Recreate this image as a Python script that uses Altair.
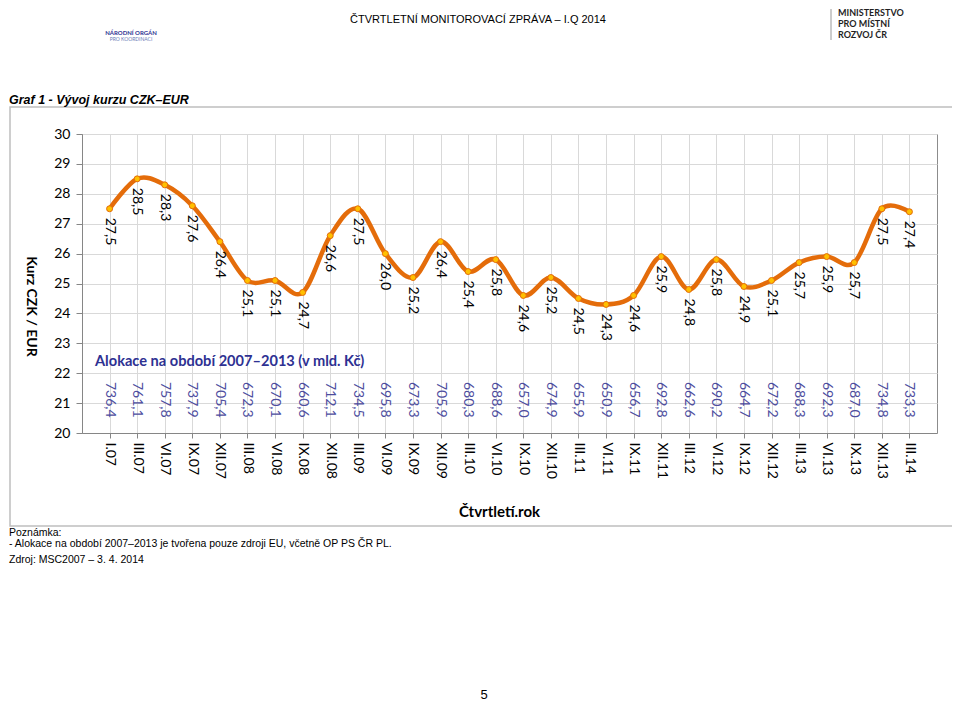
import altair as alt
import pandas as pd

quarters = ["I.07", "III.07", "VI.07", "IX.07", "XII.07", "III.08", "VI.08", "IX.08",
            "XII.08", "III.09", "VI.09", "IX.09", "XII.09", "III.10", "VI.10", "IX.10",
            "XII.10", "III.11", "VI.11", "IX.11", "XII.11", "III.12", "VI.12", "IX.12",
            "XII.12", "III.13", "VI.13", "IX.13", "XII.13", "III.14"]
rate = [27.5, 28.5, 28.3, 27.6, 26.4, 25.1, 25.1, 24.7, 26.6, 27.5, 26.0, 25.2, 26.4, 25.4,
        25.8, 24.6, 25.2, 24.5, 24.3, 24.6, 25.9, 24.8, 25.8, 24.9, 25.1, 25.7, 25.9, 25.7,
        27.5, 27.4]
alloc = [736.4, 761.1, 757.8, 737.9, 705.4, 672.3, 670.1, 660.6, 712.1, 734.5, 695.8, 673.3,
         705.9, 680.3, 688.6, 657.0, 674.9, 655.9, 650.9, 656.7, 692.8, 662.6, 690.2, 664.7,
         672.2, 688.3, 692.3, 687.0, 734.8, 733.3]
y_ticks = list(range(20, 31))

df = pd.DataFrame({"q": quarters, "rate": rate, "alloc": alloc})
df["rate_lbl"] = [f"{v:.1f}".replace(".", ",") for v in rate]
df["alloc_lbl"] = [f"{v:.1f}".replace(".", ",") for v in alloc]

FONT = "Lato"
NARROW = "Liberation Sans Narrow, Arial Narrow, Liberation Sans"

x = alt.X("q:N", sort=quarters,
          scale=alt.Scale(type="point", padding=1),
          axis=alt.Axis(title="Čtvrtletí.rok", labelAngle=90, labelAlign="left",
                        labelBaseline="middle", labelPadding=4, tickSize=5,
                        labelFontSize=14, labelColor="#000000",
                        titleX=417, titleY=78, titleAlign="center", titleBaseline="middle",
                        titleFontSize=15, titleFontWeight="bold", titleColor="#000000",
                        grid=True))
y = alt.Y("rate:Q", scale=alt.Scale(domain=[20, 30], nice=False, zero=False),
          axis=alt.Axis(values=y_ticks, title="Kurz CZK / EUR", titleAngle=90,
                        titleX=-52, titleY=172, titleAlign="center", titleBaseline="middle",
                        titleFontSize=14, titleFontWeight="bold", titleColor="#000000",
                        labelFontSize=14, labelColor="#000000", tickSize=6, labelPadding=6,
                        grid=True))

base = alt.Chart(df)
one = pd.DataFrame({"k": [0]})
deco = alt.Chart(one)

frame = deco.mark_rect(fillOpacity=0, stroke="#BFBFBF", strokeWidth=1.5).encode(
    x=alt.value(-72), x2=alt.value(875), y=alt.value(-27), y2=alt.value(392))

line = base.mark_line(interpolate="cardinal", color="#E46C0A", strokeWidth=4.5).encode(x=x, y=y)
pts = base.mark_circle(size=36, fill="#FFC000", stroke="#E46C0A", strokeWidth=1,
                       opacity=1).encode(x=x, y=y)
rate_txt = base.mark_text(angle=90, align="left", baseline="middle", dx=9, font=FONT,
                          fontSize=14, color="#000000").encode(x=x, y=y, text="rate_lbl:N")
alloc_txt = base.mark_text(angle=90, align="left", baseline="middle", font=FONT,
                           fontSize=14, color="#4D4D9E").encode(
    x=x, y=alt.value(248), text="alloc_lbl:N")

alloc_head = deco.mark_text(text="Alokace na období 2007–2013 (v mld. Kč)", align="left",
                            baseline="middle", font=FONT, fontSize=14.6, fontWeight="bold",
                            color="#2E3192").encode(x=alt.value(13), y=alt.value(228))

header = deco.mark_text(text="ČTVRTLETNÍ MONITOROVACÍ ZPRÁVA – I.Q 2014", align="center",
                        baseline="middle", font=NARROW, fontSize=11,
                        color="#000000").encode(x=alt.value(396), y=alt.value(-114))
no1 = deco.mark_text(text="NÁRODNÍ ORGÁN", align="center", baseline="middle", font=FONT,
                     fontSize=6, fontWeight="bold", color="#2E3192").encode(
    x=alt.value(49), y=alt.value(-101))
no2 = deco.mark_text(text="PRO KOORDINACI", align="center", baseline="middle", font=FONT,
                     fontSize=5, color="#6D7DB8").encode(x=alt.value(49), y=alt.value(-95))
mmr1 = deco.mark_text(text="MINISTERSTVO", align="left", baseline="middle", font=FONT,
                      fontSize=9, fontWeight="bold", color="#1F1F1F").encode(
    x=alt.value(756), y=alt.value(-121))
mmr2 = deco.mark_text(text="PRO MÍSTNÍ", align="left", baseline="middle", font=FONT,
                      fontSize=9, fontWeight="bold", color="#1F1F1F").encode(
    x=alt.value(756), y=alt.value(-110))
mmr3 = deco.mark_text(text="ROZVOJ ČR", align="left", baseline="middle", font=FONT,
                      fontSize=9, fontWeight="bold", color="#1F1F1F").encode(
    x=alt.value(756), y=alt.value(-99))
sep = deco.mark_rule(color="#9A9A9A", strokeWidth=1).encode(
    x=alt.value(749), y=alt.value(-125), y2=alt.value(-94))
title = deco.mark_text(text="Graf 1 - Vývoj kurzu CZK–EUR", align="left", baseline="middle",
                       font=NARROW, fontSize=12.5, fontWeight="bold", fontStyle="italic",
                       color="#000000").encode(x=alt.value(-73), y=alt.value(-34))
note1 = deco.mark_text(text="Poznámka:", align="left", baseline="middle", font=NARROW,
                       fontSize=10.5, color="#000000").encode(x=alt.value(-73), y=alt.value(399))
note2 = deco.mark_text(text="-  Alokace na období 2007–2013 je tvořena pouze zdroji EU, včetně OP PS ČR PL.",
                       align="left", baseline="middle", font=NARROW, fontSize=10.5,
                       color="#000000").encode(x=alt.value(-73), y=alt.value(410))
note3 = deco.mark_text(text="Zdroj: MSC2007 – 3. 4. 2014", align="left", baseline="middle",
                       font=NARROW, fontSize=10.5, color="#000000").encode(
    x=alt.value(-73), y=alt.value(426))
page = deco.mark_text(text="5", align="center", baseline="bottom", font=NARROW, fontSize=13,
                      color="#000000").encode(x=alt.value(402), y=alt.value(568))

chart = alt.layer(frame, line, pts, rate_txt, alloc_txt, alloc_head, header, no1, no2,
                  mmr1, mmr2, mmr3, sep, title, note1, note2, note3, page).properties(
    width=855, height=299,
    autosize=alt.AutoSizeParams(type="none"),
    padding={"left": 74, "top": 126, "right": 15, "bottom": 270},
    background="#FFFFFF",
).configure_axis(
    labelFont=FONT, titleFont=FONT, gridColor="#D9D9D9", domainColor="#868686",
    tickColor="#868686",
).configure_view(stroke="#8C8C8C")

chart.save("out.html", embed_options={"renderer": "svg", "actions": False})
